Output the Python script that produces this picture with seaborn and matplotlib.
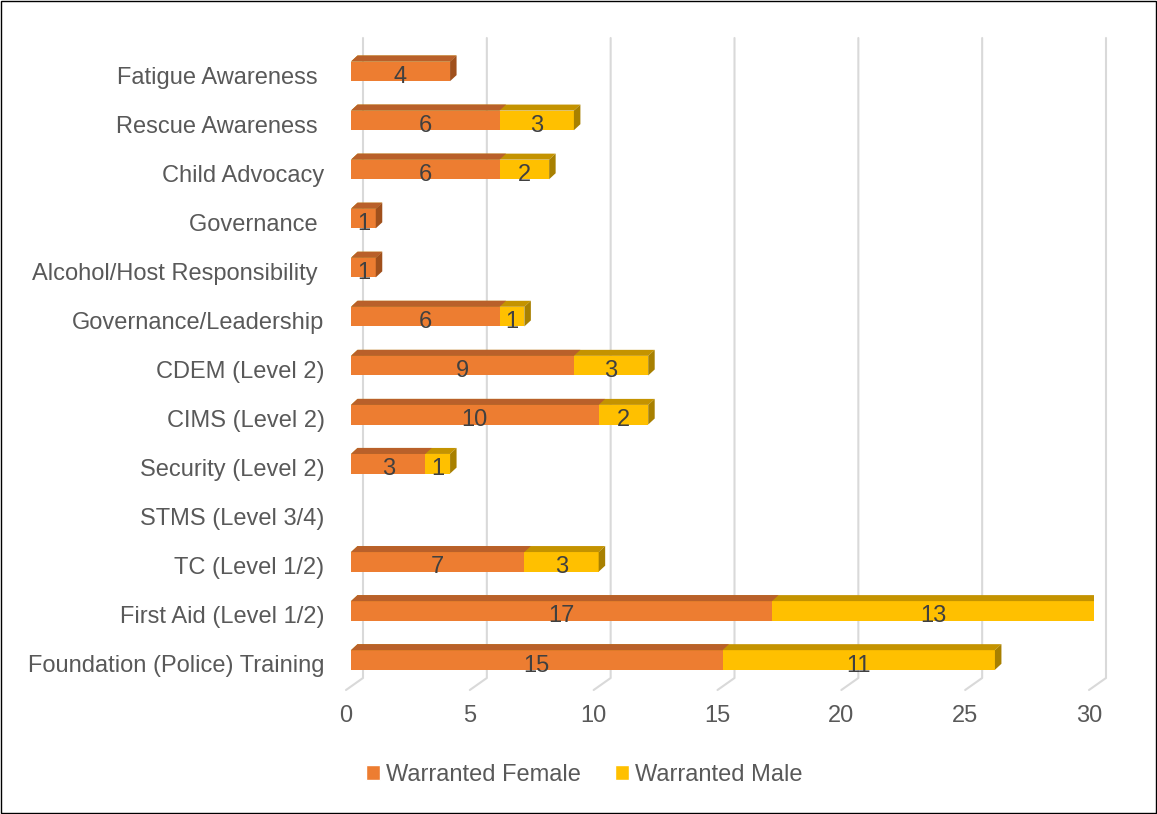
import matplotlib
matplotlib.use("Agg")
import matplotlib.pyplot as plt
import matplotlib.transforms as mtransforms
from matplotlib.patches import Polygon, Patch, Rectangle
from matplotlib.lines import Line2D
import seaborn as sns
import pandas as pd

categories = ["Fatigue Awareness ", "Rescue Awareness ", "Child Advocacy", "Governance ",
              "Alcohol/Host Responsibility ", "Governance/Leadership", "CDEM (Level 2)",
              "CIMS (Level 2)", "Security (Level 2)", "STMS (Level 3/4)", "TC (Level 1/2)",
              "First Aid (Level 1/2)", "Foundation (Police) Training"]
female = [4, 6, 6, 1, 1, 6, 9, 10, 3, 0, 7, 17, 15]
male = [0, 3, 2, 0, 0, 1, 3, 2, 1, 0, 3, 13, 11]
x_ticks = [0, 5, 10, 15, 20, 25, 30]

ORANGE, ORANGE_TOP, ORANGE_SIDE = "#ED7D31", "#B9602A", "#A0501C"
YELLOW, YELLOW_TOP, YELLOW_SIDE = "#FFC000", "#C49300", "#A88000"
GRID = "#D9D9D9"
TEXT = "#595959"

sns.set_theme(style="white")
plt.rcParams["font.family"] = ["Liberation Sans", "DejaVu Sans"]

df = pd.DataFrame({"category": categories, "female": female, "male": male})
df["total"] = df["female"] + df["male"]

W, H = 1157, 814
fig = plt.figure(figsize=(W / 100, H / 100), dpi=100)
ax_l, ax_r, ax_t, ax_b = 351, 1094, 46.8, 684.5
ax = fig.add_axes([ax_l / W, 1 - ax_b / H, (ax_r - ax_l) / W, (ax_b - ax_t) / H])

sns.barplot(data=df, x="total", y="category", color=YELLOW, saturation=1,
            width=0.4, orient="h", ax=ax, zorder=2, linewidth=0, edgecolor="none")
sns.barplot(data=df, x="female", y="category", color=ORANGE, saturation=1,
            width=0.4, orient="h", ax=ax, zorder=2, linewidth=0, edgecolor="none")
ax.set_xlim(0, 30)
ax.set_ylim(len(categories) - 0.5, -0.5)

px_x = (ax_r - ax_l) / 30.0
px_y = (ax_b - ax_t) / len(categories)
dx, dy = 6.5 / px_x, 6.0 / px_y

tot_bars = ax.containers[0]
fem_bars = ax.containers[1]
for i, (pt, pf) in enumerate(zip(tot_bars, fem_bars)):
    y0, h = pt.get_y(), pt.get_height()
    for p, col in ((pt, YELLOW_TOP), (pf, ORANGE_TOP)):
        x0, w = p.get_x(), p.get_width()
        if w <= 0:
            continue
        ax.add_patch(Polygon([(x0, y0), (x0 + w, y0), (x0 + w + dx, y0 - dy), (x0 + dx, y0 - dy)],
                             closed=True, facecolor=col, edgecolor="none", zorder=2))
    x1 = pt.get_x() + pt.get_width()
    if pt.get_width() > 0:
        side = YELLOW_SIDE if male[i] > 0 else ORANGE_SIDE
        ax.add_patch(Polygon([(x1, y0), (x1 + dx, y0 - dy), (x1 + dx, y0 + h - dy), (x1, y0 + h)],
                             closed=True, facecolor=side, edgecolor="none", zorder=2))
    yc = y0 + h / 2
    if female[i] > 0:
        ax.annotate(str(female[i]), (female[i] / 2, yc), xytext=(0, -4), textcoords="offset points",
                    ha="center", va="center", fontsize=17, color="#404040", zorder=3)
    if male[i] > 0:
        ax.annotate(str(male[i]), (female[i] + male[i] / 2, yc), xytext=(0, -4), textcoords="offset points",
                    ha="center", va="center", fontsize=17, color="#404040", zorder=3)

# back-wall gridlines with floor edge
xt = ax.get_xaxis_transform()
def fy(py):
    return (ax_b - py) / (ax_b - ax_t)
for v in x_ticks:
    back = v + 12 / px_x
    front = v - 5 / px_x
    ax.add_line(Line2D([back, back, front], [fy(38), fy(678), fy(690)], transform=xt,
                       color=GRID, lw=1.5, clip_on=False, zorder=0))

for s in ax.spines.values():
    s.set_visible(False)
ax.set_xlabel("")
ax.set_ylabel("")
ax.set_xticks(x_ticks)
ax.set_xticklabels([str(v) for v in x_ticks])
ax.tick_params(axis="x", length=0, pad=15, labelsize=17, labelcolor=TEXT)
ax.tick_params(axis="y", length=0, pad=19, labelsize=17, labelcolor=TEXT)
off_x = mtransforms.ScaledTranslation(-5 / 100, 0, fig.dpi_scale_trans)
for lab in ax.get_xticklabels():
    lab.set_transform(lab.get_transform() + off_x)
off_y = mtransforms.ScaledTranslation(0, -4 / 100, fig.dpi_scale_trans)
for lab in ax.get_yticklabels():
    lab.set_transform(lab.get_transform() + off_y)

handles = [Patch(facecolor=ORANGE, label="Warranted Female"),
           Patch(facecolor=YELLOW, label="Warranted Male")]
fig.legend(handles=handles, loc="center", bbox_to_anchor=(584 / W, 1 - 775 / H), ncol=2,
           frameon=False, fontsize=17, labelcolor=TEXT, handlelength=0.6, handleheight=0.6,
           handletextpad=0.25, columnspacing=1.45)

fig.add_artist(Rectangle((0.0012, 0.0018), 0.9976, 0.9964, transform=fig.transFigure,
                         fill=False, edgecolor="black", lw=1))

fig.savefig("out.png", dpi=100, facecolor="white")
